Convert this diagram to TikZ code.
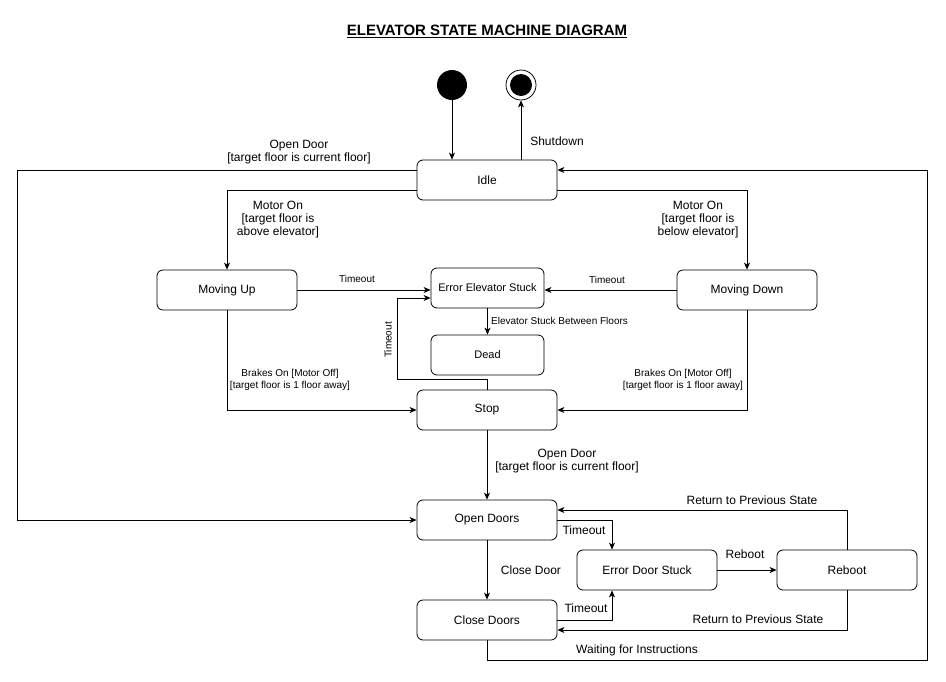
\documentclass[tikz,border=0pt]{standalone}
\usepackage{fontspec}
\setmainfont{Liberation Sans}
\usetikzlibrary{arrows.meta}
\begin{document}
\begin{tikzpicture}[x=1pt,y=-1pt,
  state/.style={draw,rounded corners=6pt,minimum width=140pt,minimum height=40pt,inner sep=0pt,font=\fontsize{12}{14}\selectfont,line width=0.8pt},
  arr/.style={draw,line width=0.8pt,-{Stealth[length=7pt,width=6pt,inset=2pt]}},
  lbl/.style={font=\fontsize{12}{14}\selectfont,align=center,inner sep=0pt},
  slbl/.style={font=\fontsize{10}{11.5}\selectfont,align=center,inner sep=0pt}]
\useasboundingbox (0,0) rectangle (946,681);
\fill[white] (0,0) rectangle (946,681);
\node[font=\fontsize{15}{17}\selectfont\bfseries] (title) at (487,31) {\underline{ELEVATOR STATE MACHINE DIAGRAM}};
\node[circle,fill=black,minimum size=30pt,inner sep=0pt] (init) at (452,85) {};
\node[circle,draw,line width=0.8pt,minimum size=30pt,inner sep=0pt] (final) at (521,85) {};
\node[circle,fill=black,minimum size=22pt,inner sep=0pt] (finalin) at (521,85) {};
\node[state] (idle) at (487,180) {Idle};
\node[state] (movup) at (227,290) {Moving Up};
\node[state] (movdown) at (747,290) {Moving Down};
\node[state,minimum width=113pt,font=\fontsize{11}{13}\selectfont] (errel) at (487.5,288) {Error Elevator Stuck};
\node[state,minimum width=113pt,font=\fontsize{11}{13}\selectfont] (dead) at (487.5,355) {Dead};
\node[state] (stop) at (487,410) {Stop};
\node[state] (opendoors) at (487,520) {Open Doors};
\node[state] (closedoors) at (487,620) {Close Doors};
\node[state] (doorstuck) at (647,570) {Error Door Stuck};
\node[state] (reboot) at (847,570) {Reboot};
\coordinate (lft) at (17,0);
\coordinate (tl) at (397,298);
\coordinate (rgt) at (927,170);
% connectors
\draw[arr] (init.south) -- (init.south |- idle.north);
\draw[arr] (idle.north -| final) -- (final.south);
\draw[arr] ([yshift=10pt]idle.west) -| (lft |- opendoors.west) -- (opendoors.west);
\draw[arr] ([yshift=-10pt]idle.west) -| (movup.north);
\draw[arr] ([yshift=-10pt]idle.east) -| (movdown.north);
\draw[arr] (movup.east) -- (movup.east -| errel.west);
\draw[arr] (movdown.west) -- (movdown.west -| errel.east);
\draw[arr] (errel.south) -- (dead.north);
\draw[arr] (stop.north) -- ++(0,-10) -| (tl) -- (tl -| errel.west);
\draw[arr] (movup.south) |- (stop.west);
\draw[arr] (movdown.south) |- (stop.east);
\draw[arr] (stop.south) -- (opendoors.north);
\draw[arr] (opendoors.south) -- (closedoors.north);
\draw[arr] (opendoors.east) -| ([xshift=-35pt]doorstuck.north);
\draw[arr] (closedoors.east) -| ([xshift=-35pt]doorstuck.south);
\draw[arr] (doorstuck.east) -- (reboot.west);
\draw[arr] (reboot.north) |- ([yshift=10pt]opendoors.east);
\draw[arr] (reboot.south) |- ([yshift=-10pt]closedoors.east);
\draw[arr] (closedoors.south) -- ++(0,20) -| (rgt) -- ([yshift=10pt]idle.east);
% labels
\node[lbl] (l1) at (557,141) {Shutdown};
\node[lbl] (l2) at (299,152) {Open Door\\[-1pt]{[target floor is current floor]}};
\node[lbl] (l3) at (278,220) {Motor On\\[-1pt]{[target floor is}\\[-1pt]above elevator]};
\node[lbl] (l4) at (698,220) {Motor On\\[-1pt]{[target floor is}\\[-1pt]below elevator]};
\node[slbl] (l5) at (357,279) {Timeout};
\node[slbl] (l6) at (607,280) {Timeout};
\node[slbl,anchor=west] (l7) at (491,321) {Elevator Stuck Between Floors};
\node[slbl,rotate=90] (l8) at (388,340) {Timeout};
\node[slbl] (l9) at (290,380) {Brakes On [Motor Off]\\[0pt]{[target floor is 1 floor away]}};
\node[slbl] (l10) at (683,380) {Brakes On [Motor Off]\\[0pt]{[target floor is 1 floor away]}};
\node[lbl] (l11) at (567,461) {Open Door\\[-1pt]{[target floor is current floor]}};
\node[lbl] (l12) at (531,570) {Close Door};
\node[lbl] (l13) at (584,530) {Timeout};
\node[lbl] (l14) at (586,608) {Timeout};
\node[lbl] (l15) at (745,554) {Reboot};
\node[lbl] (l16) at (752,500) {Return to Previous State};
\node[lbl] (l17) at (758,619) {Return to Previous State};
\node[lbl] (l18) at (637,650) {Waiting for Instructions};
\end{tikzpicture}
\end{document}
